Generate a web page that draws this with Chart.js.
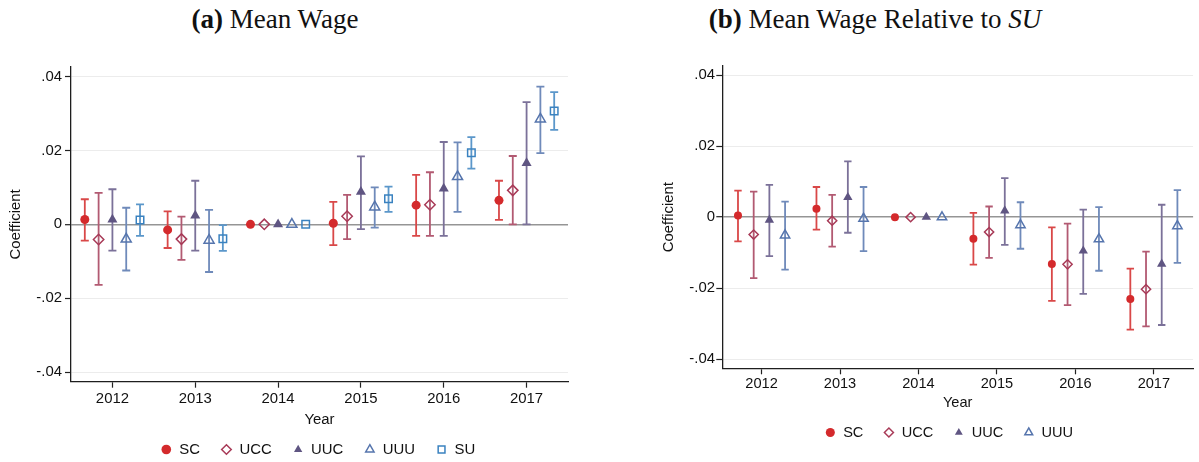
<!DOCTYPE html>
<html>
<head>
<meta charset="utf-8">
<script src="https://cdn.jsdelivr.net/npm/chart.js@4.4.1/dist/chart.umd.min.js"></script>
<style>
  html, body { margin: 0; padding: 0; background: #fff; }
  body { position: relative; width: 1199px; height: 462px; overflow: hidden; }
  canvas { position: absolute; top: 0; }
  .ttl {
    position: absolute; top: -1px; width: 400px; height: 40px; line-height: 40px;
    text-align: center; font-family: 'Liberation Serif', 'DejaVu Serif', serif;
    font-size: 27px; color: #111; white-space: nowrap;
  }
  .ttl b { font-weight: bold; }
</style>
</head>
<body>
<div class="ttl" style="left:75px"><b>(a)</b> Mean Wage</div>
<div class="ttl" style="left:675px"><b>(b)</b> Mean Wage Relative to <i>SU</i></div>
<canvas id="panelA" width="600" height="475" style="left:0"></canvas>
<canvas id="panelB" width="600" height="456" style="left:600px"></canvas>
<script>
// ---- data ---------------------------------------------------------------
const years = [2012, 2013, 2014, 2015, 2016, 2017];
const yTickValues = [-0.04, -0.02, 0, 0.02, 0.04];
const yTickLabels = ['-.04', '-.02', '0', '.02', '.04'];

// (a) Mean wage: point estimates and 95% CI bounds (2014 is the base year)
const scA     = [0.0013, -0.0015, 0, 0.0003, 0.0052, 0.0065];
const scA_lo  = [-0.0044, -0.0064, null, -0.0056, -0.0031, 0.0012];
const scA_hi  = [0.0068, 0.0035, null, 0.0061, 0.0134, 0.0118];
const uccA    = [-0.0041, -0.0040, 0, 0.0022, 0.0053, 0.0092];
const uccA_lo = [-0.0164, -0.0096, null, -0.0040, -0.0031, 0.0000];
const uccA_hi = [0.0085, 0.0021, null, 0.0080, 0.0141, 0.0185];
const uucA    = [0.0013, 0.0024, 0, 0.0088, 0.0097, 0.0166];
const uucA_lo = [-0.0071, -0.0071, null, -0.0013, -0.0031, 0.0000];
const uucA_hi = [0.0095, 0.0118, null, 0.0184, 0.0223, 0.0331];
const uuuA    = [-0.0040, -0.0043, 0, 0.0047, 0.0129, 0.0285];
const uuuA_lo = [-0.0125, -0.0129, null, -0.0009, 0.0034, 0.0193];
const uuuA_hi = [0.0045, 0.0039, null, 0.0100, 0.0222, 0.0373];
const suA     = [0.0012, -0.0039, 0, 0.0069, 0.0194, 0.0307];
const suA_lo  = [-0.0031, -0.0072, null, 0.0034, 0.0151, 0.0256];
const suA_hi  = [0.0054, -0.0002, null, 0.0102, 0.0236, 0.0358];

// (b) Mean wage relative to SU
const scB     = [0.0005, 0.0024, 0, -0.0061, -0.0132, -0.0231];
const scB_lo  = [-0.0068, -0.0035, null, -0.0134, -0.0236, -0.0317];
const scB_hi  = [0.0075, 0.0085, null, 0.0012, -0.0029, -0.0145];
const uccB    = [-0.0049, -0.0010, 0, -0.0042, -0.0133, -0.0203];
const uccB_lo = [-0.0172, -0.0083, null, -0.0115, -0.0248, -0.0308];
const uccB_hi = [0.0072, 0.0063, null, 0.0030, -0.0018, -0.0097];
const uucB    = [-0.0008, 0.0056, 0, 0.0018, -0.0095, -0.0132];
const uucB_lo = [-0.0110, -0.0044, null, -0.0078, -0.0216, -0.0304];
const uucB_hi = [0.0091, 0.0157, null, 0.0110, 0.0021, 0.0035];
const uuuB    = [-0.0051, -0.0004, 0, -0.0022, -0.0062, -0.0025];
const uuuB_lo = [-0.0148, -0.0096, null, -0.0089, -0.0151, -0.0129];
const uuuB_hi = [0.0044, 0.0085, null, 0.0042, 0.0028, 0.0076];

// ---- styles -------------------------------------------------------------
const STY = {
  SC:  { mark: '#d42a2c', ci: '#d94848', style: 'circle',   fill: true  },
  UCC: { mark: '#a83a57', ci: '#b25a72', style: 'rectRot',  fill: false },
  UUC: { mark: '#5f5582', ci: '#7b7199', style: 'triangle', fill: true  },
  UUU: { mark: '#5675ad', ci: '#6f8aba', style: 'triangle', fill: false },
  SU:  { mark: '#3a82c0', ci: '#5b97ca', style: 'rect',     fill: false }
};
const SANS = "'Liberation Sans', Arial, Helvetica, sans-serif";
const INK = '#111';

// vertical CI whiskers with caps, drawn under the markers
const errorBars = {
  id: 'errorBars',
  beforeDatasetsDraw(chart, args, opts) {
    const { ctx, scales: { x, y } } = chart;
    const cap = opts.cap || 4;
    chart.data.datasets.forEach(ds => {
      if (!ds.lo) return;
      ctx.save();
      ctx.strokeStyle = ds.ciColor;
      ctx.lineWidth = opts.width || 1.8;
      ds.data.forEach((p, i) => {
        if (ds.lo[i] == null || ds.hi[i] == null) return;
        const px = x.getPixelForValue(p.x);
        const y1 = y.getPixelForValue(ds.lo[i]);
        const y2 = y.getPixelForValue(ds.hi[i]);
        ctx.beginPath();
        ctx.moveTo(px, y1); ctx.lineTo(px, y2);
        ctx.moveTo(px - cap, y1); ctx.lineTo(px + cap, y1);
        ctx.moveTo(px - cap, y2); ctx.lineTo(px + cap, y2);
        ctx.stroke();
      });
      ctx.restore();
    });
  }
};

// move the legend row to a given centre point
const legendPlace = {
  id: 'legendPlace',
  afterLayout(chart, args, opts) {
    const lg = chart.legend;
    if (!lg || opts.cx == null) return;
    const lab = lg.options.labels;
    const fs = lab.font.size;
    const dx = opts.cx - (lg.left + lg.right) / 2;
    const dy = opts.cy - (lg.top + lab.padding + fs / 2);
    lg.left += dx; lg.right += dx; lg.top += dy; lg.bottom += dy;
  }
};

function series(name, vals, lo, hi, off, radius) {
  const s = STY[name];
  return {
    label: name,
    data: years.map((yr, i) => ({ x: yr + off, y: vals[i] })),
    lo, hi,
    ciColor: s.ci,
    pointStyle: s.style,
    pointRadius: radius[name],
    pointHoverRadius: radius[name],
    pointBorderWidth: s.fill ? 0 : 1.5,
    pointBackgroundColor: s.fill ? s.mark : 'rgba(255,255,255,0)',
    pointBorderColor: s.mark,
    backgroundColor: s.fill ? s.mark : 'rgba(255,255,255,0)',
    borderColor: s.mark,
    borderWidth: s.fill ? 0 : 1.5,
    showLine: false
  };
}

function makeChart(id, cfg) {
  const legH = cfg.fs + cfg.legPad + 10;
  return new Chart(document.getElementById(id), {
    type: 'scatter',
    data: { datasets: cfg.datasets },
    plugins: [errorBars, legendPlace],
    options: {
      responsive: false,
      animation: false,
      events: [],
      layout: { padding: { top: cfg.top, right: cfg.padRight, left: 0, bottom: 0 } },
      plugins: {
        tooltip: { enabled: false },
        errorBars: { cap: cfg.cap, width: 1.8 },
        legendPlace: { cx: cfg.legCx, cy: cfg.legCy },
        legend: {
          position: 'bottom',
          labels: {
            usePointStyle: true,
            boxHeight: cfg.legBox,
            boxWidth: 11,
            padding: cfg.legPad,
            color: INK,
            font: { family: SANS, size: cfg.fs }
          }
        }
      },
      scales: {
        x: {
          type: 'linear',
          min: 2011.5, max: 2017.5,
          afterBuildTicks: s => { s.ticks = years.map(v => ({ value: v })); },
          afterFit: s => { s.height = cfg.canvasH - legH - cfg.plotBottom; },
          ticks: { color: INK, font: { family: SANS, size: cfg.fs }, padding: cfg.xPad,
                   maxRotation: 0, callback: v => String(v) },
          grid: { drawOnChartArea: false, drawTicks: true, tickLength: 6, tickColor: '#222', tickWidth: 1.2 },
          border: { display: true, color: '#1e1e1e', width: 1.3 },
          title: { display: true, text: 'Year', color: INK, font: { family: SANS, size: cfg.fs },
                   padding: { top: 0, bottom: 0 } }
        },
        y: {
          type: 'linear',
          min: -0.0426, max: 0.0426,
          afterBuildTicks: s => { s.ticks = yTickValues.map(v => ({ value: v })); },
          afterFit: s => { s.width = cfg.yWidth; },
          ticks: { color: INK, font: { family: SANS, size: 14.9 }, padding: cfg.yPad,
                   callback: (v, i) => yTickLabels[i] },
          grid: {
            color: c => (c.tick && c.tick.value === 0) ? '#959595' : '#ececec',
            lineWidth: c => (c.tick && c.tick.value === 0) ? 1.4 : 1,
            drawTicks: true, tickLength: 6, tickColor: '#222', tickWidth: 1.2
          },
          border: { display: true, color: '#1e1e1e', width: 1.3 },
          title: { display: true, text: 'Coefficient', color: INK, font: { family: SANS, size: 14.9 },
                   padding: { top: cfg.yTitlePad, bottom: 0 } }
        }
      }
    }
  });
}

const radA = { SC: 4.5, UCC: 5.2, UUC: 5.8, UUU: 5.8, SU: 5.3 };
const offA = [-1 / 3, -1 / 6, 0, 1 / 6, 1 / 3];
makeChart('panelA', {
  canvasH: 475, top: 67, padRight: 32, plotBottom: 381.7,
  yWidth: 71, yPad: 3, yTitlePad: 7, xPad: 2.5, fs: 14.9,
  legPad: 21, legBox: 6.8, legCx: 318, legCy: 449.5, cap: 4,
  datasets: [
    series('SC',  scA,  scA_lo,  scA_hi,  offA[0], radA),
    series('UCC', uccA, uccA_lo, uccA_hi, offA[1], radA),
    series('UUC', uucA, uucA_lo, uucA_hi, offA[2], radA),
    series('UUU', uuuA, uuuA_lo, uuuA_hi, offA[3], radA),
    series('SU',  suA,  suA_lo,  suA_hi,  offA[4], radA)
  ]
});

const radB = { SC: 4, UCC: 4.6, UUC: 5.4, UUU: 5.4 };
const offB = [-0.3, -0.1, 0.1, 0.3];
makeChart('panelB', {
  canvasH: 456, top: 66, padRight: 0.2, plotBottom: 368.3,
  yWidth: 122.3, yPad: 1.3, yTitlePad: 60.4, xPad: 1, fs: 14.6,
  legPad: 20, legBox: 6.4, legCx: 349, legCy: 432.5, cap: 3.7,
  datasets: [
    series('SC',  scB,  scB_lo,  scB_hi,  offB[0], radB),
    series('UCC', uccB, uccB_lo, uccB_hi, offB[1], radB),
    series('UUC', uucB, uucB_lo, uucB_hi, offB[2], radB),
    series('UUU', uuuB, uuuB_lo, uuuB_hi, offB[3], radB)
  ]
});
</script>
</body>
</html>
